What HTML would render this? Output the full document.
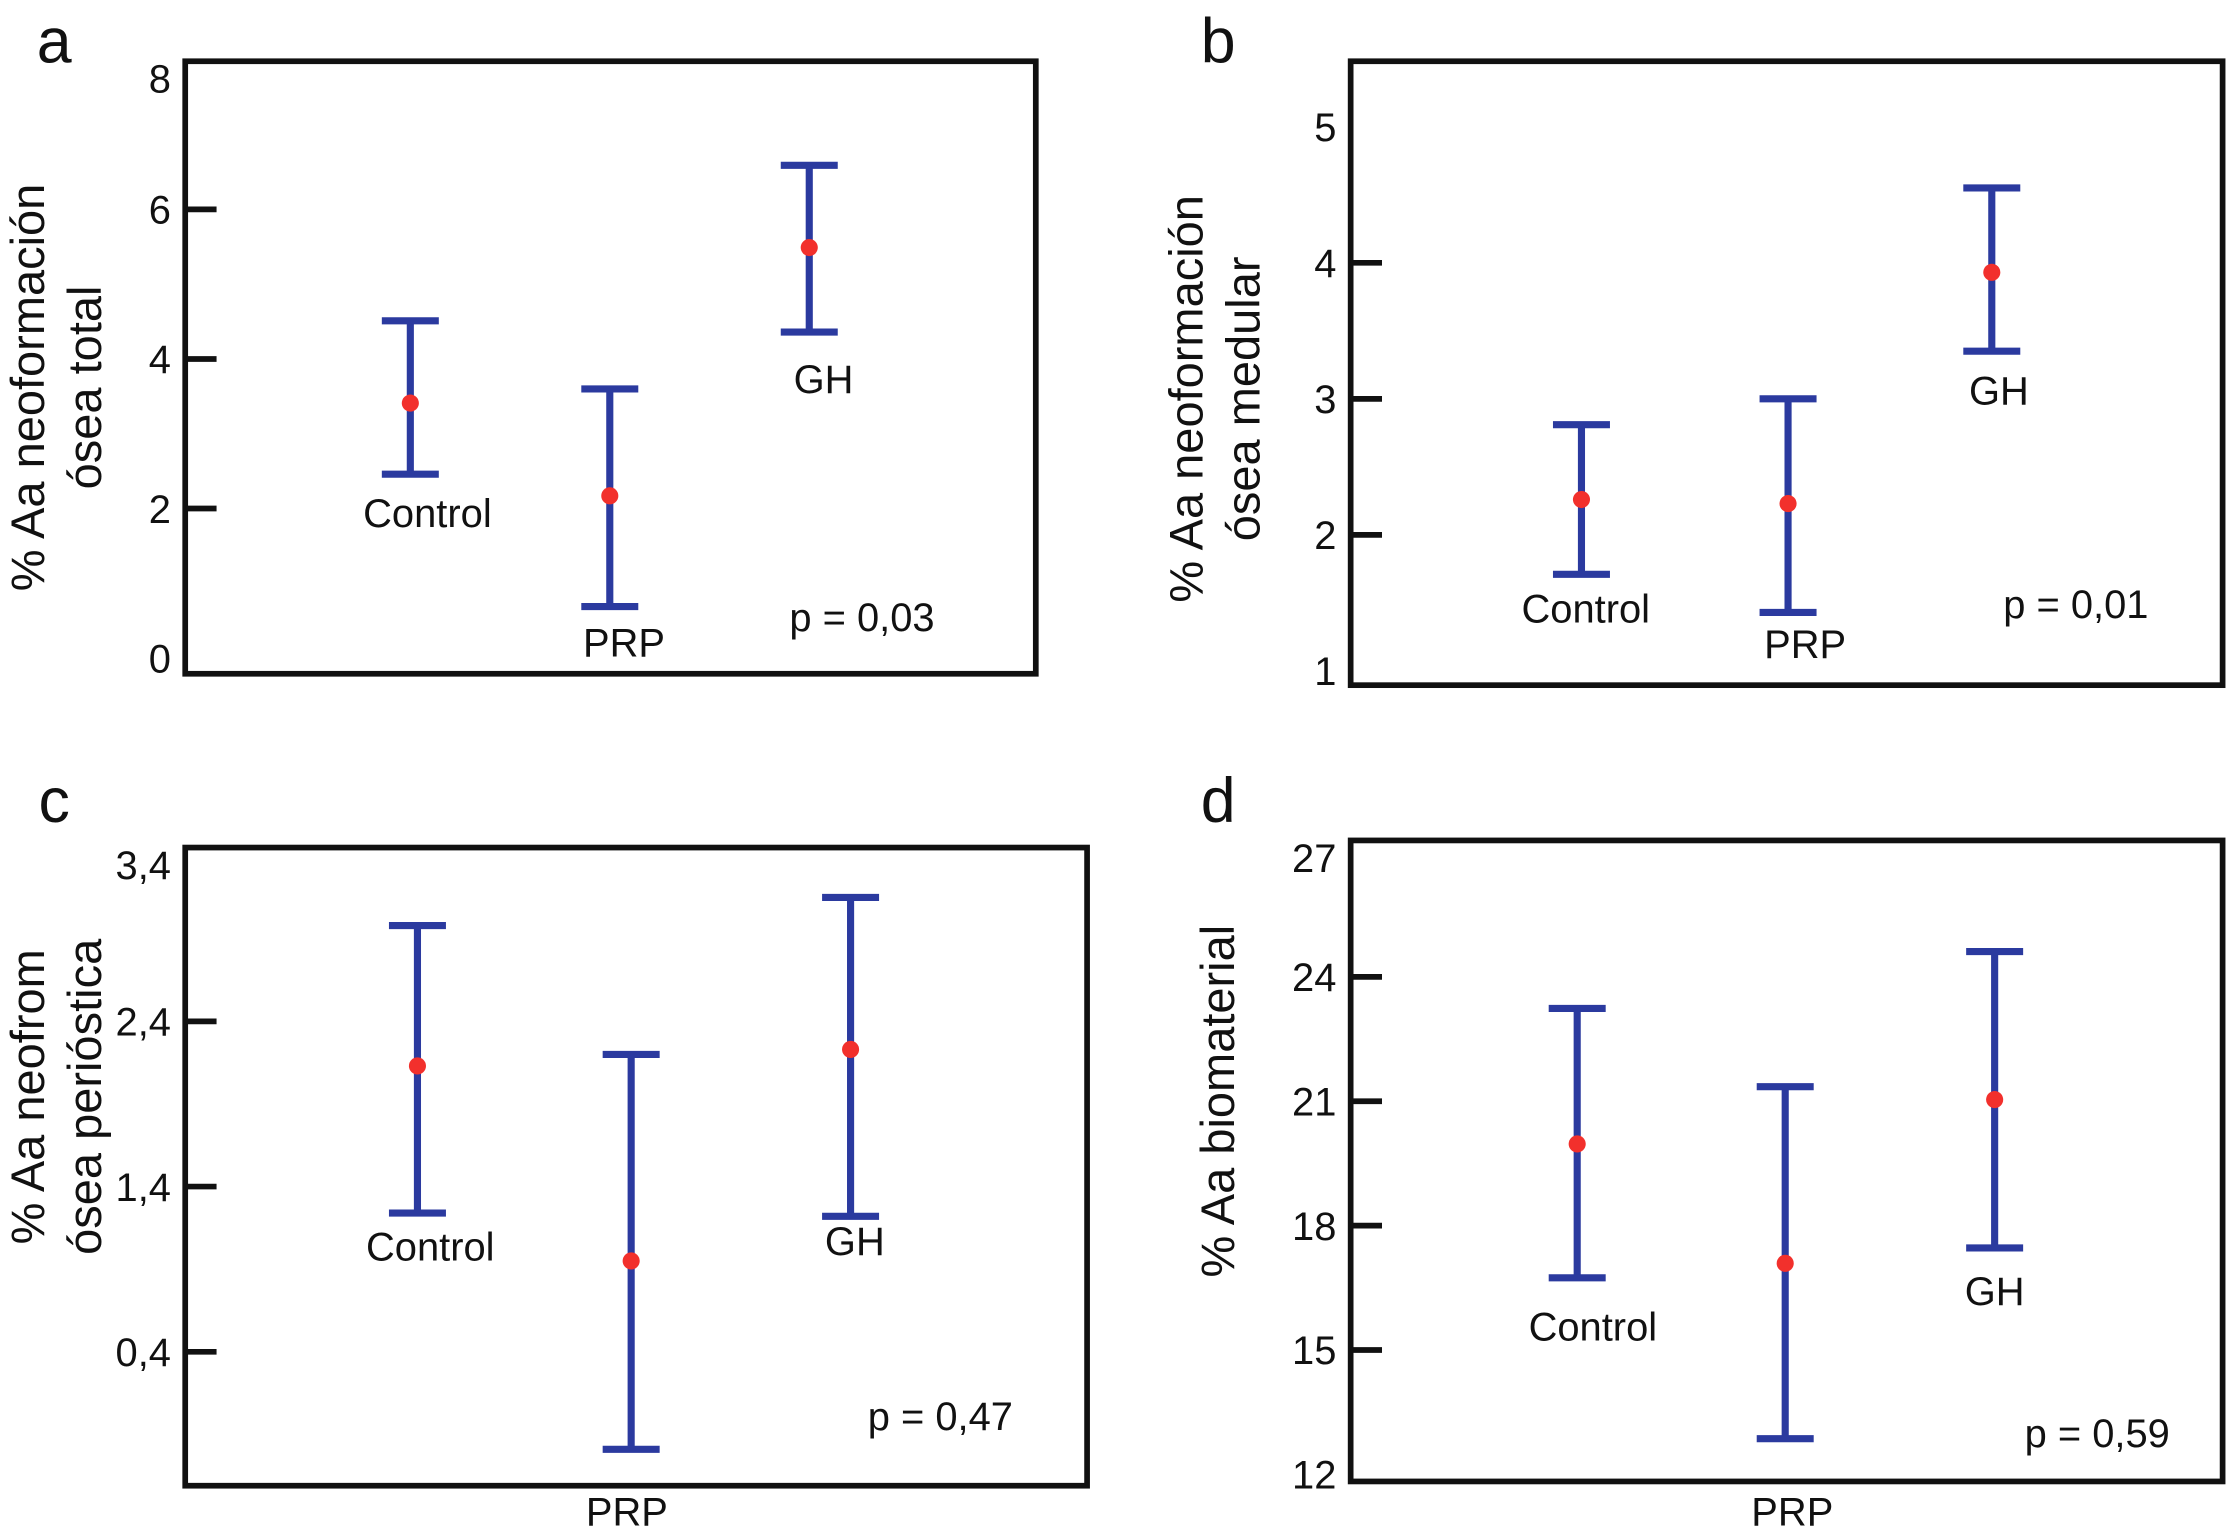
<!DOCTYPE html>
<html><head><meta charset="utf-8"><style>
html,body{margin:0;padding:0;background:#fff}
svg{display:block}
text{font-family:"Liberation Sans",Arial,sans-serif;fill:#111}
</style></head><body>
<svg id="fig" width="2234" height="1537" viewBox="0 0 1568 1079" preserveAspectRatio="none" xmlns="http://www.w3.org/2000/svg"></svg>
<script>
const groups = ["Control","PRP","GH"];
// panel a
const aMean = [3.41, 2.17, 5.49];
const aLow  = [2.46, 0.69, 4.36];
const aHigh = [4.51, 3.6, 6.59];
const aTicks = ["0","2","4","6","8"];
// panel b
const bMean = [2.26, 2.23, 3.93];
const bLow  = [1.71, 1.43, 3.35];
const bHigh = [2.81, 3.0, 4.55];
const bTicks = ["1","2","3","4","5"];
// panel c
const cMean = [2.13, 0.95, 2.23];
const cLow  = [1.24, -0.19, 1.22];
const cHigh = [2.98, 2.2, 3.15];
const cTicks = ["0,4","1,4","2,4","3,4"];
// panel d
const dMean = [19.97, 17.09, 21.04];
const dLow  = [16.74, 12.86, 17.46];
const dHigh = [23.24, 21.35, 24.61];
const dTicks = ["12","15","18","21","24","27"];

const svg = document.getElementById('fig');
const NS = "http://www.w3.org/2000/svg";
function mk(tag, attrs, parent){ const e=document.createElementNS(NS,tag); for(const k in attrs) e.setAttribute(k,attrs[k]); (parent||svg).appendChild(e); return e; }
function txt(s, x, y, size, anchor, parent, rot){ const t=mk('text',{x:x,y:y,'font-size':size,'text-anchor':anchor||'middle'},parent); if(rot) t.setAttribute('transform','rotate(-90 '+x+' '+y+')'); t.textContent=s; return t; }

const panels = [
 {id:'a', box:[130,43,727,473], y0:462, v0:0, k:52.5, xs:[288,428,568], mean:aMean, lo:aLow, hi:aHigh,
  ticks:aTicks, tickMarks:[false,true,true,true,false], letter:[38,44],
  title:[["% Aa neoformación",20],["ósea total",60]], titleY:272,
  labels:[[300,370],[438,461],[578,276]], p:["p = 0,03",605,443]},
 {id:'b', box:[948,43,1560,481], y0:471, v0:1, k:95.5, xs:[1110,1255,1398], mean:bMean, lo:bLow, hi:bHigh,
  ticks:bTicks, tickMarks:[false,true,true,true,false], letter:[855,44],
  title:[["% Aa neoformación",833],["ósea medular",873]], titleY:280,
  labels:[[1113,437],[1267,462],[1403,284]], p:["p = 0,01",1457,434]},
 {id:'c', box:[130,595,763,1043], y0:949, v0:0.4, k:116, xs:[293,443,597], mean:cMean, lo:cLow, hi:cHigh,
  ticks:cTicks, tickMarks:[true,true,true,false], letter:[38,577],
  title:[["% Aa neofrom",20],["ósea perióstica",60]], titleY:770,
  labels:[[302,885],[440,1071],[600,881]], p:["p = 0,47",660,1004]},
 {id:'d', box:[948,590,1560,1040], y0:1035, v0:12, k:29.1, xs:[1107,1253,1400], mean:dMean, lo:dLow, hi:dHigh,
  ticks:dTicks, tickMarks:[false,true,true,true,true,false], letter:[855,577],
  title:[["% Aa biomaterial",855]], titleY:773,
  labels:[[1118,941],[1258,1071],[1400,916]], p:["p = 0,59",1472,1016]}
];

panels.forEach(P=>{
  const g = mk('g',{});
  
  
  const yv = v => P.y0 - (v - P.v0)*P.k;
  const [x1,y1,x2,y2]=P.box;
  const box = mk('rect',{x:x1,y:y1,width:x2-x1,height:y2-y1,fill:'none',stroke:'#111','stroke-width':4},g);
  
  
  const L = txt(P.id, P.letter[0], P.letter[1], 44, 'middle', g);
  
  
  P.ticks.forEach((s,i)=>{
    const v = parseFloat(s.replace(',','.'));
    let y = yv(v);
    const ly = Math.max(y, y1+12);
    const t = txt(s, x1-10, ly+10, 28, 'end', g);
    
    
    if(P.tickMarks[i]){
      const m = mk('line',{x1:x1,y1:y,x2:x1+22,y2:y,stroke:'#111','stroke-width':4},g);
      
      
    }
  });
  P.title.forEach(([s,x])=>{
    const t = txt(s, x+11, P.titleY, 33, 'middle', g, true);
    
    
  });
  groups.forEach((name,i)=>{
    const x = P.xs[i];
    const yt = yv(P.hi[i]), yb = yv(P.lo[i]), ym = yv(P.mean[i]);
    const bar = mk('g',{stroke:'#2b3a9f','stroke-width':5},g);
    
    
    mk('line',{x1:x,y1:yt,x2:x,y2:yb},bar);
    mk('line',{x1:x-20,y1:yt,x2:x+20,y2:yt},bar);
    mk('line',{x1:x-20,y1:yb,x2:x+20,y2:yb},bar);
    const d = mk('circle',{cx:x,cy:ym,r:6,fill:'#f2302c'},g);
    
    
    const lb = txt(name, P.labels[i][0], P.labels[i][1], 28, 'middle', g);
    
    
  });
  const p = txt(P.p[0], P.p[1], P.p[2], 28, 'middle', g);
  
  
});
</script>
</body></html>
